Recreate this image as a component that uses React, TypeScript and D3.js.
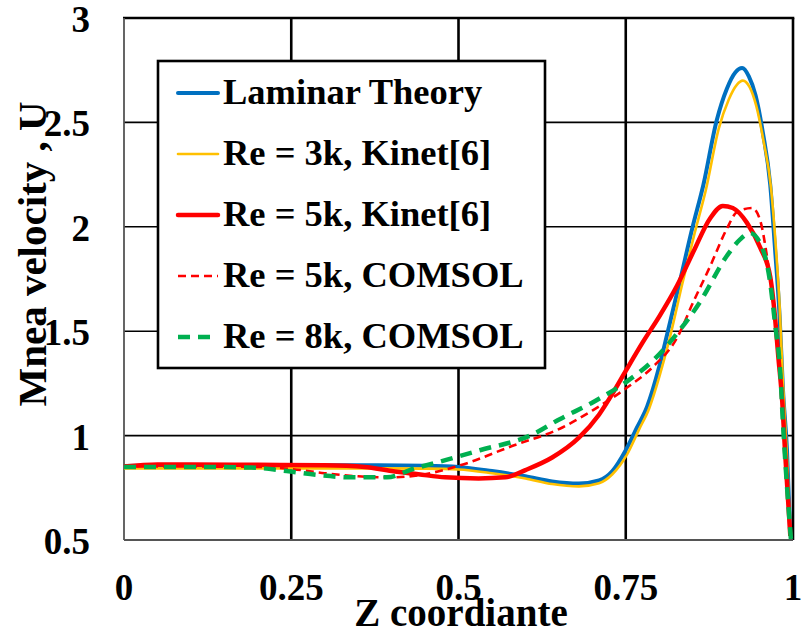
import React, { useEffect, useRef } from "react";
import * as d3 from "d3";

// ticks
const xTicks = [0, 0.25, 0.5, 0.75, 1];
const yTicks = [0.5, 1, 1.5, 2, 2.5, 3];

// Laminar Theory
const laminarX = [0, 0.05, 0.1, 0.2, 0.3, 0.38, 0.45, 0.5, 0.55, 0.6, 0.64, 0.68, 0.71, 0.73, 0.75, 0.767, 0.782, 0.8, 0.813, 0.831, 0.85, 0.866, 0.886, 0.901, 0.914, 0.924, 0.934, 0.944, 0.955, 0.966, 0.973, 0.98, 0.985, 0.991, 0.996];
const laminarY = [0.855, 0.857, 0.858, 0.858, 0.858, 0.858, 0.856, 0.85, 0.83, 0.805, 0.78, 0.77, 0.785, 0.83, 0.93, 1.04, 1.14, 1.33, 1.5, 1.74, 2.0, 2.2, 2.51, 2.66, 2.74, 2.76, 2.72, 2.63, 2.45, 2.2, 1.9, 1.57, 1.22, 0.93, 0.52];

// Re = 3k, Kinet[6]
const kinet3X = [0, 0.1, 0.2, 0.3, 0.38, 0.45, 0.5, 0.55, 0.6, 0.64, 0.68, 0.71, 0.73, 0.752, 0.77, 0.785, 0.8, 0.816, 0.834, 0.853, 0.87, 0.889, 0.904, 0.916, 0.925, 0.935, 0.945, 0.956, 0.967, 0.974, 0.98, 0.985, 0.991, 0.996];
const kinet3Y = [0.843, 0.843, 0.843, 0.843, 0.843, 0.842, 0.838, 0.82, 0.795, 0.768, 0.757, 0.772, 0.815, 0.91, 1.03, 1.13, 1.28, 1.47, 1.72, 1.97, 2.18, 2.47, 2.61, 2.68, 2.7, 2.67, 2.58, 2.41, 2.19, 1.92, 1.62, 1.25, 0.9, 0.52];

// Re = 5k, Kinet[6]
const kinet5X = [0, 0.05, 0.1, 0.2, 0.3, 0.36, 0.4, 0.44, 0.48, 0.53, 0.57, 0.6, 0.64, 0.68, 0.71, 0.73, 0.75, 0.776, 0.8, 0.827, 0.851, 0.876, 0.895, 0.91, 0.931, 0.951, 0.966, 0.973, 0.978, 0.984, 0.988, 0.996];
const kinet5Y = [0.852, 0.862, 0.862, 0.86, 0.858, 0.85, 0.83, 0.815, 0.8, 0.795, 0.8, 0.835, 0.895, 0.99, 1.1, 1.2, 1.31, 1.45, 1.57, 1.72, 1.88, 2.04, 2.1, 2.09, 2.02, 1.9, 1.76, 1.57, 1.38, 1.16, 0.93, 0.52];

// Re = 5k, COMSOL
const comsol5X = [0, 0.1, 0.2, 0.25, 0.3, 0.35, 0.4, 0.44, 0.5, 0.58, 0.656, 0.7, 0.752, 0.791, 0.827, 0.851, 0.876, 0.901, 0.916, 0.939, 0.951, 0.961, 0.97, 0.978, 0.984, 0.996];
const comsol5Y = [0.853, 0.852, 0.85, 0.84, 0.82, 0.805, 0.8, 0.81, 0.855, 0.95, 1.04, 1.12, 1.23, 1.33, 1.47, 1.64, 1.81, 1.99, 2.07, 2.09, 2.03, 1.86, 1.65, 1.41, 1.16, 0.52];

// Re = 8k, COMSOL
const comsol8X = [0, 0.1, 0.19, 0.243, 0.293, 0.342, 0.393, 0.432, 0.483, 0.532, 0.607, 0.652, 0.701, 0.752, 0.791, 0.827, 0.861, 0.901, 0.921, 0.936, 0.955, 0.966, 0.973, 0.981, 0.985, 0.997];
const comsol8Y = [0.85, 0.85, 0.847, 0.83, 0.81, 0.8, 0.8, 0.84, 0.885, 0.93, 1.0, 1.08, 1.16, 1.26, 1.36, 1.49, 1.64, 1.86, 1.94, 1.97, 1.89, 1.73, 1.54, 1.3, 1.06, 0.5];

const seriesNames = ["Laminar Theory", "Re = 3k, Kinet[6]", "Re = 5k, Kinet[6]", "Re = 5k, COMSOL", "Re = 8k, COMSOL"];

const App = () => {
  const svgRef = useRef<SVGSVGElement>(null);

  useEffect(() => {
    const svg = d3.select(svgRef.current);
    svg.selectAll("*").remove();

    const width = 807;
    const height = 634;
    const margin = { top: 18, right: 14, bottom: 94, left: 124 };
    const font = "'Liberation Serif', 'Times New Roman', serif";

    const x = d3.scaleLinear().domain([0, 1]).range([margin.left, width - margin.right]);
    const y = d3.scaleLinear().domain([0.5, 3]).range([height - margin.bottom, margin.top]);

    // gridlines
    svg.append("g")
      .selectAll("line")
      .data(yTicks.slice(1, -1))
      .enter()
      .append("line")
      .attr("x1", x(0)).attr("x2", x(1))
      .attr("y1", (d) => y(d)).attr("y2", (d) => y(d))
      .attr("stroke", "#000").attr("stroke-width", 1.6);

    svg.append("g")
      .selectAll("line")
      .data(xTicks.slice(1, -1))
      .enter()
      .append("line")
      .attr("x1", (d) => x(d)).attr("x2", (d) => x(d))
      .attr("y1", y(0.5)).attr("y2", y(3))
      .attr("stroke", "#000").attr("stroke-width", 2.6);

    // frame: thick top/right, thin grey left/bottom
    svg.append("line").attr("x1", x(0) - 1).attr("x2", x(1) + 1.3).attr("y1", y(3)).attr("y2", y(3))
      .attr("stroke", "#000").attr("stroke-width", 2.6);
    svg.append("line").attr("x1", x(1)).attr("x2", x(1)).attr("y1", y(3)).attr("y2", y(0.5))
      .attr("stroke", "#000").attr("stroke-width", 2.6);
    svg.append("line").attr("x1", x(0)).attr("x2", x(0)).attr("y1", y(3)).attr("y2", y(0.5))
      .attr("stroke", "#555").attr("stroke-width", 1.8);
    svg.append("line").attr("x1", x(0)).attr("x2", x(1)).attr("y1", y(0.5)).attr("y2", y(0.5))
      .attr("stroke", "#555").attr("stroke-width", 1.8);

    // series
    const series = [
      { xs: laminarX, ys: laminarY, color: "#0070C0", w: 4, dash: null },
      { xs: kinet3X, ys: kinet3Y, color: "#FFC000", w: 2.6, dash: null },
      { xs: kinet5X, ys: kinet5Y, color: "#FF0000", w: 4.5, dash: null },
      { xs: comsol5X, ys: comsol5Y, color: "#FF0000", w: 2.6, dash: "8,5" },
      { xs: comsol8X, ys: comsol8Y, color: "#00B050", w: 4.5, dash: "12,8" },
    ];

    const line = d3.line<[number, number]>()
      .x((d) => x(d[0]))
      .y((d) => y(d[1]))
      .curve(d3.curveMonotoneX);

    const plot = svg.append("g");
    series.forEach((s) => {
      const pts = s.xs.map((v, i) => [v, s.ys[i]] as [number, number]);
      plot.append("path")
        .attr("d", line(pts))
        .attr("fill", "none")
        .attr("stroke", s.color)
        .attr("stroke-width", s.w)
        .attr("stroke-linejoin", "round")
        .attr("stroke-dasharray", s.dash);
    });

    // tick labels
    svg.append("g")
      .selectAll("text")
      .data(yTicks)
      .enter()
      .append("text")
      .attr("x", 90)
      .attr("y", (d) => y(d) + 1)
      .attr("dy", "0.35em")
      .attr("text-anchor", "end")
      .style("font-family", font)
      .style("font-weight", "bold")
      .style("font-size", "37px")
      .text((d) => String(d));

    svg.append("g")
      .selectAll("text")
      .data(xTicks)
      .enter()
      .append("text")
      .attr("x", (d) => x(d))
      .attr("y", 600)
      .attr("text-anchor", "middle")
      .style("font-family", font)
      .style("font-weight", "bold")
      .style("font-size", "37px")
      .text((d) => String(d));

    // axis titles
    svg.append("text")
      .attr("x", 461)
      .attr("y", 626)
      .attr("text-anchor", "middle")
      .style("font-family", font)
      .style("font-weight", "bold")
      .style("font-size", "39px")
      .text("Z coordiante");

    svg.append("text")
      .attr("transform", `translate(46,254) rotate(-90)`)
      .attr("text-anchor", "middle")
      .style("font-family", font)
      .style("font-weight", "bold")
      .style("font-size", "41px")
      .text("Mnea velocity , U");

    // legend
    const legend = svg.append("g");
    legend.append("rect")
      .attr("x", 158).attr("y", 61)
      .attr("width", 387).attr("height", 307)
      .attr("fill", "#fff")
      .attr("stroke", "#000")
      .attr("stroke-width", 2.6);

    const items = legend.selectAll(".legend-item")
      .data(series)
      .enter()
      .append("g")
      .attr("class", "legend-item")
      .attr("transform", (d, i) => `translate(0, ${93 + i * 61})`);

    items.append("line")
      .attr("x1", 178).attr("x2", 218)
      .attr("y1", 0).attr("y2", 0)
      .attr("stroke", (d) => d.color)
      .attr("stroke-width", (d) => d.w)
      .attr("stroke-linecap", (d) => (d.dash ? "butt" : "round"))
      .attr("stroke-dasharray", (d) => d.dash);

    items.append("text")
      .attr("x", 223)
      .attr("y", 11)
      .style("font-family", font)
      .style("font-weight", "bold")
      .style("font-size", "36.5px")
      .text((d, i) => seriesNames[i]);
  }, []);

  return (
    <svg
      ref={svgRef}
      width={807}
      height={634}
      style={{ position: "absolute", left: 0, top: 0, background: "#fff" }}
    ></svg>
  );
};

export default App;
